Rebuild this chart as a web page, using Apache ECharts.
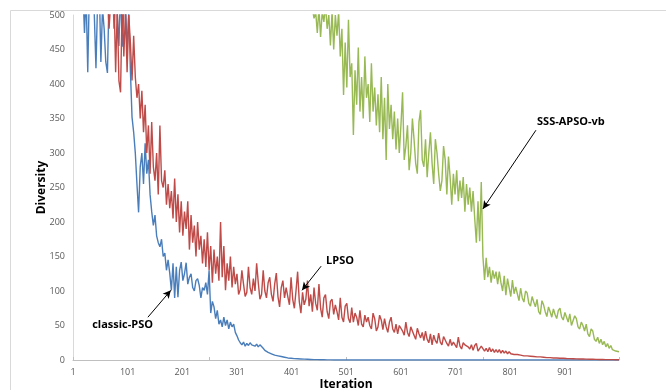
<!DOCTYPE html>
<html><head><meta charset="utf-8">
<script src="https://cdn.jsdelivr.net/npm/echarts@6/dist/echarts.min.js"></script>
<style>html,body{margin:0;padding:0;background:#fff}#c{width:666px;height:390px}</style>
</head><body><div id="c"></div>
<script>
// Sampling: one value every 3 iterations
const step = 3;
const seriesNames = ['classic-PSO', 'LPSO', 'SSS-APSO-vb'];
const yTicks = [0, 50, 100, 150, 200, 250, 300, 350, 400, 450, 500];
const xLabelIterations = [1, 101, 201, 301, 401, 501, 601, 701, 801, 901];

// classic-PSO, iterations 1,4,7,...,1000
const classicStart = 1;
const classicPSO = [
680,650,620,600,590,560,540,474,530,417,
540,510,560,500,423,520,545,432,510,480,
432,416,530,505,560,480,520,500,455,540,
454,510,520,447,505,420,352,330,300,255,
214,280,300,255,314,270,290,240,215,195,
210,180,170,164,175,150,155,130,145,126,
101,140,90,135,91,130,142,115,125,141,
110,120,125,105,100,115,118,108,90,105,
101,112,95,130,68,85,77,60,72,52,
58,48,62,50,58,45,55,48,52,40,
35,29,25,22,26,20,24,21,25,22,
24,20,23,19,22,20,17,14,15,11,
10,9,8,7,7,6,5,5,4,4,
3.5,3,3,2.5,2.5,2,2,1.8,1.5,1.5,
1.2,1.2,1,1,0.8,0.8,0.7,0.6,0.5,0.5,
0.4,0.4,0.3,0.3,0.3,0.2,0.2,0.2,0.2,0.1,
0,0,0,0,0,0,0,0,0,0,
0,0,0,0,0,0,0,0,0,0,
0,0,0,0,0,0,0,0,0,0,
0,0,0,0,0,0,0,0,0,0,
0,0,0,0,0,0,0,0,0,0,
0,0,0,0,0,0,0,0,0,0,
0,0,0,0,0,0,0,0,0,0,
0,0,0,0,0,0,0,0,0,0,
0,0,0,0,0,0,0,0,0,0,
0,0,0,0,0,0,0,0,0,0,
0,0,0,0,0,0,0,0,0,0,
0,0,0,0,0,0,0,0,0,0,
0,0,0,0,0,0,0,0,0,0,
0,0,0,0,0,0,0,0,0,0,
0,0,0,0,0,0,0,0,0,0,
0,0,0,0,0,0,0,0,0,0,
0,0,0,0,0,0,0,0,0,0,
0,0,0,0
];

// LPSO, iterations 1,4,7,...,1000
const lpsoStart = 1;
const lpso = [
700,690,680,670,660,650,640,630,620,610,
600,590,585,580,570,565,560,555,550,545,
540,530,480,520,505,530,417,510,405,388,
520,440,505,417,500,460,405,470,410,380,
400,350,390,330,370,300,340,270,345,280,
260,300,240,340,260,250,275,225,255,220,
245,205,263,200,240,185,230,180,215,190,
230,160,210,170,195,150,200,160,180,140,
175,135,185,130,165,112,160,125,150,115,
200,120,165,101,140,115,150,105,135,110,
125,95,102,130,110,92,98,135,105,95,
118,100,140,112,88,95,130,100,90,112,
120,95,85,110,126,92,77,105,115,90,
105,92,80,120,88,75,100,128,85,68,
98,80,88,115,78,95,70,105,82,72,
110,75,62,90,95,70,60,85,88,66,
80,70,58,90,62,55,78,82,60,54,
76,55,68,62,50,72,52,48,65,55,
62,50,45,68,60,42,48,65,58,44,
60,48,40,55,62,45,40,52,38,50,
50,42,36,55,40,34,48,50,36,30,
46,38,32,40,28,42,30,25,38,22,
36,28,24,39,26,22,34,32,24,20,
30,21,26,28,18,33,20,16,25,22,
24,19,16,22,14,21,24,13,15,20,
19,13,17,12,18,12,16,11,15,11,
15,10,14,10,13,9,12,9,11,8,
10,8,9,7,9,6,8,6,7.5,5.5,
7,5,6.5,4.5,6,4.5,5.5,4,5,3.5,
4.5,3.5,4,3,4,3,3.5,2.5,3,2.5,
3,2.2,2.6,2,2.4,1.8,2.2,1.6,2,1.5,
1.8,1.4,1.6,1.2,1.5,1.1,1.3,1,1.2,0.9,
1.1,0.8,1,0.7,0.9,0.6,0.8,0.5,0.7,0.5,
0.6,0.4,0.5,0.4
];

// SSS-APSO-vb, iterations 421,424,...,1000
const sssStart = 421;
const sssApsoVb = [
620,590,560,530,505,520,510,495,505,474,
510,468,505,490,515,480,500,456,505,450,
500,470,505,440,480,384,460,395,493,410,
430,326,420,370,453,360,410,350,440,380,
400,345,430,360,395,340,385,330,410,320,
380,290,400,335,370,320,360,305,350,300,
340,388,290,310,340,275,300,350,320,285,
270,345,362,290,280,320,265,300,330,285,
255,320,300,270,245,260,310,290,240,295,
265,225,270,240,275,230,260,235,265,215,
255,225,250,215,245,205,170,230,172,258,
150,116,148,120,135,112,130,118,128,110,
128,112,100,122,94,118,105,92,116,96,
106,96,86,104,90,84,100,97,82,78,
92,84,77,88,70,66,86,80,70,63,
77,70,62,74,66,60,72,75,62,58,
69,62,55,67,50,52,64,60,48,45,
55,50,42,52,38,34,45,42,30,27,
33,24,30,22,27,19,24,17,21,15,
17,13,14,12
];

// Annotations (data coordinates: x = iteration-1, y = diversity)
const annoTextAt = [[35, 51], [463, 143], [849, 345]];
const annoArrowFrom = [[137, 62], [454, 136], [847, 333]];
const annoArrowTo = [[179, 101], [419, 101], [750, 219]];

function pairs(start, vals) { return vals.map((v, i) => [start - 1 + i * step, v]); }

const colors = ['#4A7EBB', '#BE4B48', '#98B954'];
const seriesData = [pairs(classicStart, classicPSO), pairs(lpsoStart, lpso), pairs(sssStart, sssApsoVb)];

const chart = echarts.init(document.getElementById('c'));
const FONT = 'Open Sans';

chart.setOption({
  animation: false,
  backgroundColor: '#fff',
  grid: { left: 73, top: 15, width: 546, height: 345, containLabel: false, outerBoundsMode: 'none' },
  xAxis: [{
    type: 'value', min: 0, max: 999, interval: 100,
    name: 'Iteration', nameLocation: 'middle', nameGap: 19, nameMoveOverlap: false,
    nameTextStyle: { fontFamily: FONT, fontWeight: 'bold', fontSize: 12, color: '#000' },
    axisLine: { show: true, onZero: false, lineStyle: { color: '#bfbfbf', width: 1 } },
    axisTick: { show: false },
    splitLine: { show: false },
    axisLabel: {
      fontFamily: FONT, fontSize: 9, color: '#595959', margin: 8, showMaxLabel: false,
      formatter: v => (xLabelIterations.indexOf(v + 1) >= 0 ? String(v + 1) : '')
    }
  }, {
    type: 'value', min: 0, max: 999, interval: 250, position: 'bottom',
    axisLine: { show: false }, axisLabel: { show: false }, splitLine: { show: false },
    axisTick: { show: true, inside: true, length: 3, lineStyle: { color: '#bfbfbf' } }
  }],
  yAxis: {
    type: 'value', min: yTicks[0], max: yTicks[yTicks.length - 1], interval: 50,
    name: 'Diversity', nameLocation: 'middle', nameGap: 25, nameRotate: 90, nameMoveOverlap: false,
    nameTextStyle: { fontFamily: FONT, fontWeight: 'bold', fontSize: 12, color: '#000' },
    axisLine: { show: true, lineStyle: { color: '#d9d9d9', width: 1 } },
    axisTick: { show: false },
    splitLine: { show: false },
    axisLabel: { fontFamily: FONT, fontSize: 9, color: '#595959', margin: 8 }
  },
  series: seriesData.map((d, i) => ({
    name: seriesNames[i], type: 'line', data: d, showSymbol: false, symbol: 'none',
    clip: true, lineStyle: { color: colors[i], width: 1.4 }, itemStyle: { color: colors[i] },
    z: 2 + i,
    markLine: {
      silent: true, animation: false, symbol: ['none', 'arrow'], symbolSize: [6, 8],
      label: { show: false },
      lineStyle: { color: '#000', width: 1, type: 'solid' },
      itemStyle: { color: '#000' },
      data: [[{ coord: annoArrowFrom[i] }, { coord: annoArrowTo[i] }]]
    }
  }))
});

const graphics = [{
  type: 'rect', silent: true, z: -10,
  shape: { x: 10.5, y: 10.5, width: 700, height: 420 },
  style: { fill: null, stroke: '#d9d9d9', lineWidth: 1 }
}];
seriesNames.forEach((n, i) => {
  const p = chart.convertToPixel({ seriesIndex: 0 }, annoTextAt[i]);
  graphics.push({
    type: 'text', x: p[0], y: p[1], z: 100,
    style: { text: n, fontFamily: FONT, fontWeight: 'bold', fontSize: 11, fill: '#000',
      align: 'left', verticalAlign: 'middle' }
  });
});
chart.setOption({ graphic: graphics });
</script>
</body></html>
